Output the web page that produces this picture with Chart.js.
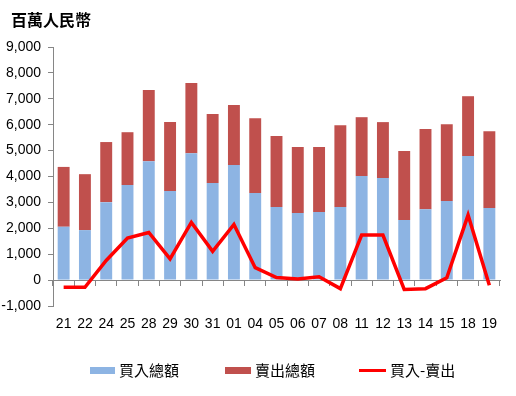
<!DOCTYPE html>
<html>
<head>
<meta charset="utf-8">
<script src="https://cdn.jsdelivr.net/npm/chart.js@4"></script>
<style>
  body { margin: 0; background: #fff; }
  #wrap { position: relative; width: 516px; height: 396px; }
  #title {
    position: absolute; left: 11px; top: 7px; height: 20px; line-height: 20px;
    font: bold 16px "Noto Sans CJK TC", sans-serif; color: #000;
  }
  #legend {
    position: absolute; left: 0; top: 360px; width: 516px; height: 20px;
    font: 15px "Noto Sans CJK TC", sans-serif; color: #000;
  }
  .item { position: absolute; top: 0; height: 20px; line-height: 20px; white-space: nowrap; }
  .swatch { position: absolute; }
</style>
</head>
<body>
<div id="wrap">
  <canvas id="tradeChart" width="516" height="396"></canvas>
  <div id="title">百萬人民幣</div>
  <div id="legend"></div>
</div>
<script>
// 日期 (交易日)
const categories = ['21', '22', '24', '25', '28', '29', '30', '31', '01', '04', '05',
                    '06', '07', '08', '11', '12', '13', '14', '15', '18', '19'];

// 百萬人民幣
const buyTotal  = [2060, 1930, 3010, 3670, 4590, 3440, 4900, 3750, 4440, 3360, 2820,
                   2590, 2630, 2820, 4020, 3940, 2320, 2740, 3050, 4790, 2780];
const sellTotal = [2310, 2160, 2320, 2040, 2750, 2660, 2710, 2660, 2320, 2890, 2740,
                   2550, 2510, 3160, 2270, 2160, 2660, 3090, 2970, 2310, 2970];
const netFlow   = [-280, -280, 760, 1620, 1840, 820, 2230, 1110, 2150, 480, 100,
                   40, 130, -330, 1740, 1740, -360, -330, 90, 2510, -200];

const yTicks = { min: -1000, max: 9000, step: 1000 };

const COLORS = { buy: '#8DB4E3', sell: '#C0504D', net: '#FF0000', axis: '#868686' };
const TICK_FONT = '"Liberation Sans", Arial, sans-serif';

// 圖例
const legendItems = [
  { label: '買入總額', color: COLORS.buy, x: 90, w: 25, h: 7 },
  { label: '賣出總額', color: COLORS.sell, x: 225, w: 26, h: 7 },
  { label: '買入-賣出', color: COLORS.net, x: 359, w: 27, h: 3 }
];

function renderLegend() {
  const box = document.getElementById('legend');
  box.innerHTML = legendItems.map(it => `
    <div class="item" style="left:${it.x}px">
      <span class="swatch" style="left:0;top:${10 - it.h / 2}px;width:${it.w}px;height:${it.h}px;background:${it.color}"></span>
      <span style="position:absolute;left:${it.w + 4}px;top:0">${it.label}</span>
    </div>
  `).join('');
}

function renderChart() {
  const ctx = document.getElementById('tradeChart').getContext('2d');
  return new Chart(ctx, {
    data: {
      labels: categories,
      datasets: [
        {
          type: 'line',
          label: '買入-賣出',
          data: netFlow,
          stack: 'net',
          borderColor: COLORS.net,
          backgroundColor: COLORS.net,
          borderWidth: 3.5,
          pointRadius: 0,
          tension: 0,
          order: 0
        },
        {
          type: 'bar',
          label: '買入總額',
          data: buyTotal,
          stack: 'trade',
          backgroundColor: COLORS.buy,
          categoryPercentage: 1,
          barPercentage: 0.56,
          order: 1
        },
        {
          type: 'bar',
          label: '賣出總額',
          data: sellTotal,
          stack: 'trade',
          backgroundColor: COLORS.sell,
          categoryPercentage: 1,
          barPercentage: 0.56,
          order: 1
        }
      ]
    },
    options: {
      responsive: false,
      animation: false,
      layout: { padding: { left: 0, right: 16, top: 47, bottom: 60 } },
      plugins: {
        legend: { display: false },
        tooltip: { enabled: false },
        title: { display: false }
      },
      scales: {
        // 0 軸 (刻度線)
        x: {
          type: 'category',
          position: { y: 0 },
          stacked: true,
          offset: true,
          grid: { display: true, offset: true, drawOnChartArea: false, drawTicks: true, tickLength: 5, color: COLORS.axis },
          border: { display: true, color: COLORS.axis, width: 1 },
          ticks: { display: false }
        },
        // 底部日期標籤
        x2: {
          type: 'category',
          labels: categories,
          position: 'bottom',
          offset: true,
          grid: { display: false, drawTicks: false },
          border: { display: false },
          ticks: { color: '#000', padding: 10, maxRotation: 0, autoSkip: false, font: { family: TICK_FONT, size: 14 } },
          afterFit: scale => { scale.height = 30; }
        },
        y: {
          stacked: true,
          min: yTicks.min,
          max: yTicks.max,
          grid: { display: true, drawOnChartArea: false, drawTicks: true, tickLength: 5, color: COLORS.axis },
          border: { display: true, color: COLORS.axis, width: 1 },
          ticks: {
            stepSize: yTicks.step,
            color: '#000',
            padding: 7,
            font: { family: TICK_FONT, size: 14 },
            callback: v => v.toLocaleString('en-US')
          },
          afterFit: scale => { scale.width = 53; }
        }
      }
    }
  });
}

renderLegend();
window.tradeChart = renderChart();
</script>
</body>
</html>
